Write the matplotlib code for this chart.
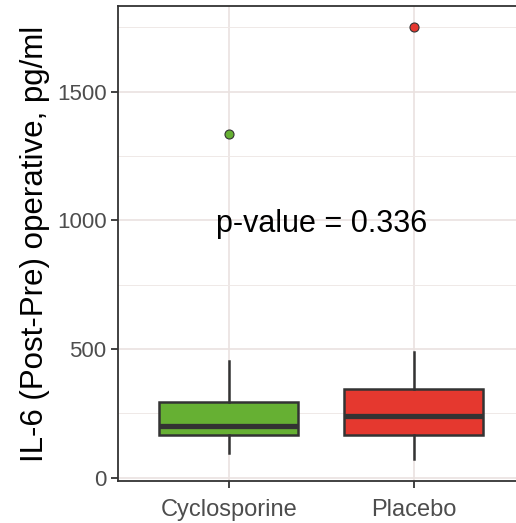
import matplotlib.pyplot as plt
import numpy as np

# data
groups = ['Cyclosporine', 'Placebo']
whislo = [95, 72]
q1 = [166, 166]
med = [202, 241]
q3 = [293, 345]
whishi = [454, 490]
outliers = [[1336], [1749]]
fills = ['#66B033', '#E5382F']
p_text = 'p-value = 0.336'

plt.rcParams['font.family'] = ['Liberation Sans', 'DejaVu Sans']

fig = plt.figure(figsize=(5.16, 5.23), dpi=100)
ax = fig.add_axes([0.228, 0.0803, 0.789, 0.908])

stats = []
for i in range(len(groups)):
    stats.append(dict(label=groups[i], whislo=whislo[i], q1=q1[i], med=med[i],
                      q3=q3[i], whishi=whishi[i], fliers=[]))

bp = ax.bxp(stats, positions=[1, 2], widths=0.75, patch_artist=True,
            showcaps=False, showfliers=False,
            boxprops=dict(edgecolor='#333333', linewidth=1.8),
            whiskerprops=dict(color='#333333', linewidth=1.8),
            medianprops=dict(color='#333333', linewidth=3.8, solid_capstyle='butt'))
for patch, c in zip(bp['boxes'], fills):
    patch.set_facecolor(c)
    patch.set_zorder(3)
for l in bp['whiskers'] + bp['medians']:
    l.set_zorder(3)

# outlier points
for i in range(len(groups)):
    ax.plot([i + 1] * len(outliers[i]), outliers[i], 'o', ms=6.5,
            mfc=fills[i], mec='#333333', mew=0.8, zorder=4)

ax.text(1.5, 985, p_text, ha='center', va='center', fontsize=22, color='black')

ax.set_xlim(0.4, 2.6)
ax.set_ylim(-13, 1832)
ax.set_xticks([1, 2])
ax.set_xticklabels(groups)
ax.set_yticks([0, 500, 1000, 1500])
ax.set_yticks([250, 750, 1250, 1750], minor=True)

ax.grid(True, which='major', color='#EAE2E0', linewidth=1.2, zorder=0)
ax.grid(True, which='minor', axis='y', color='#EFE9E7', linewidth=0.7, zorder=0)
ax.set_axisbelow(True)

ax.tick_params(axis='both', which='major', length=5, width=1.3, color='#333333',
               labelcolor='#4D4D4D')
ax.tick_params(axis='y', labelsize=16, pad=3)
ax.tick_params(axis='x', labelsize=17, pad=8)
ax.tick_params(axis='y', which='minor', length=0)
for s in ax.spines.values():
    s.set_color('#333333')
    s.set_linewidth(1.3)

ax.set_ylabel('IL-6 (Post-Pre) operative, pg/ml', fontsize=22.5, color='black', labelpad=5)

plt.savefig('out.png', dpi=100)
